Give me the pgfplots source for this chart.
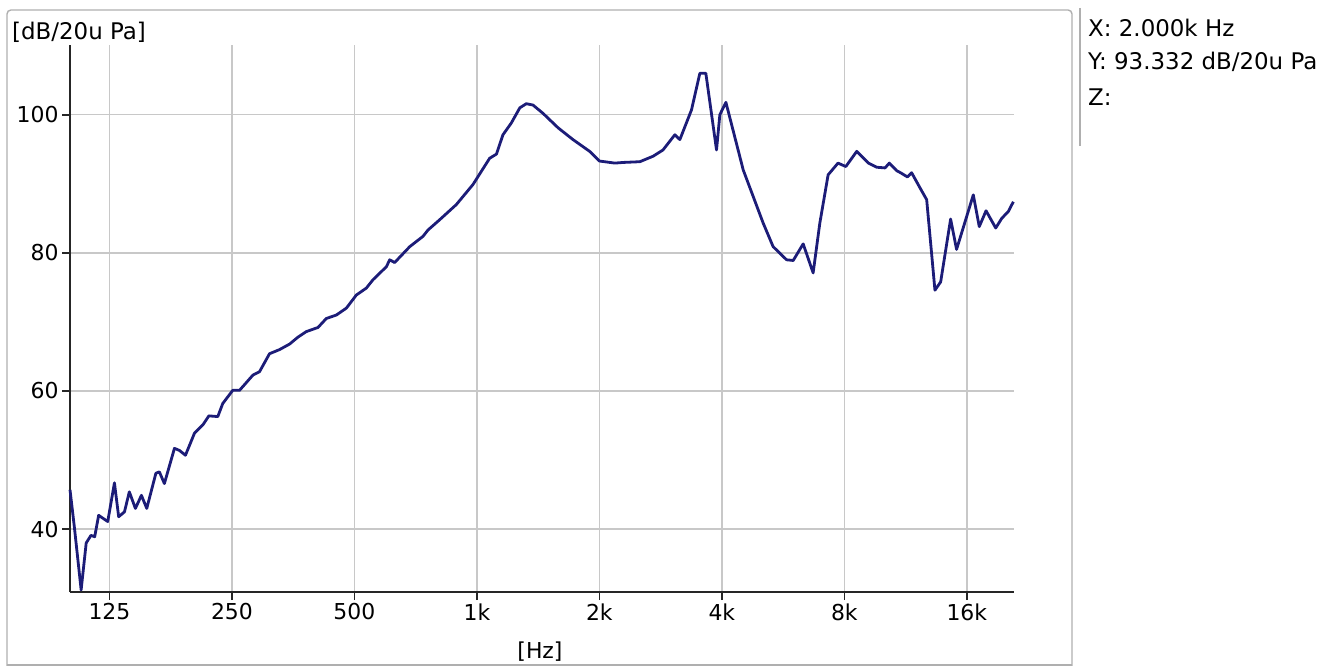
\documentclass[border=0pt]{standalone}
\usepackage{fontspec}
\setmainfont{DejaVu Sans}
\usepackage{pgfplots}
\pgfplotsset{compat=1.18}
\definecolor{curve}{RGB}{28,28,120}
\definecolor{gridc}{RGB}{200,200,200}
\definecolor{framec}{RGB}{175,175,175}
\begin{document}
\begin{tikzpicture}
\path[use as bounding box] (0bp,0bp) rectangle (1341bp,666bp);
% panel frame
\draw[framec, line width=1.4bp, rounded corners=4bp] (7bp,0bp) -- (7bp,656bp) -- (1072bp,656bp) -- (1072bp,0bp);
\draw[framec, line width=1.4bp] (7bp,1bp) -- (1072bp,1bp);
\draw[framec, line width=1.2bp] (1080bp,658bp) -- (1080bp,520bp);
\begin{axis}[
  at={(70bp,74bp)}, anchor=south west,
  scale only axis, width=944bp, height=547bp,
  xmode=log, xmin=100, xmax=20900,
  ymin=30.9, ymax=110.1,
  axis x line*=bottom, axis y line*=left,
  axis line style={-, line width=1.8bp, black!85},
  xtick={125,250,500,1000,2000,4000,8000,16000},
  xticklabels={125,250,500,1k,2k,4k,8k,16k},
  ytick={40,60,80,100},
  yticklabels={40,60,80,100},
  xtick pos=bottom, ytick pos=left,
  tick align=outside, major tick length=8bp,
  major tick style={draw=black!85, line width=1.6bp},
  xmajorgrids, ymajorgrids, xminorgrids=false,
  major grid style={line width=1.4bp, gridc},
  tick label style={font=\fontsize{22}{26}\selectfont},
  /pgf/number format/assume math mode=true,
  clip=false,
]
\addplot[curve, line width=2.8bp, no marks, line join=round] coordinates {
(100,45.7) (102.5,40.3) (106.5,31.2) (109.6,38.0) (112.6,39.1) (115.0,38.9)
(117.6,42.0) (123.8,41.1) (128.6,46.7) (131.7,41.8) (136.1,42.5) (139.9,45.4)
(144.8,43.0) (149.8,44.9) (154.4,43.0) (162.6,48.1) (165.8,48.3) (170.6,46.6)
(180.6,51.7) (185.8,51.4) (192.2,50.7) (202.3,53.9) (212.1,55.1) (219.4,56.4)
(230.8,56.3) (237.4,58.2) (251.2,60.1) (261.0,60.1) (281.5,62.3) (292.3,62.8)
(309.3,65.4) (327.4,66.0) (346.6,66.8) (363.3,67.8) (380.8,68.6) (406.9,69.2)
(426.5,70.5) (451.4,71.0) (477.8,72.0) (505.6,73.9) (534.9,74.9) (555.3,76.1)
(599.3,78.0) (610.6,79.0) (627.9,78.6) (683.9,80.9) (737.5,82.4) (758,83.3)
(810.2,84.8) (890.4,87.0) (978.2,89.9) (1075,93.7) (1117,94.3) (1159,97.1)
(1215,98.8) (1275,101.0) (1323,101.6) (1374,101.4) (1454,100.2) (1584,98.1)
(1723,96.4) (1893,94.7) (2000,93.3) (2183,93.0) (2300,93.1) (2515,93.2)
(2712,94.0) (2867,94.9) (3066,97.1) (3154,96.4) (3369,100.7) (3532,106.0)
(3654,106.0) (3882,94.9) (3956,100.0) (4093,101.8) (4515,92.0) (5055,84.3)
(5347,80.9) (5769,79.0) (5991,78.9) (6338,81.3) (6706,77.1) (6964,84.3)
(7300,91.3) (7719,93.0) (8068,92.5) (8583,94.7) (9167,93.0) (9609,92.4)
(10073,92.3) (10320,93.0) (10760,91.9) (11000,91.6) (11430,91.0) (11710,91.6)
(12280,89.4) (12750,87.7) (13360,74.6) (13800,75.8) (14600,84.9) (15100,80.5)
(16600,88.4) (17170,83.8) (17840,86.1) (18850,83.6) (19500,85.0) (20240,86.0)
(20820,87.4)
};
% tick marks drawn outward from the axis lines
\pgfplotsinvokeforeach{125,250,500,1000,2000,4000,8000,16000}{
  \draw[black!85, line width=1.6bp] (axis cs:#1,30.9) -- ++(0bp,-8bp);
}
\pgfplotsinvokeforeach{40,60,80,100}{
  \draw[black!85, line width=1.6bp] (axis cs:100,#1) -- ++(-8bp,0bp);
}
\end{axis}
\node[anchor=west, inner sep=0pt, font=\fontsize{23}{27}\selectfont] at (12bp,634bp) {[dB/20u Pa]};
\node[anchor=center, inner sep=0pt, font=\fontsize{22}{26}\selectfont] at (540bp,14bp) {[Hz]};
\node[anchor=west, inner sep=0pt, font=\fontsize{23}{27}\selectfont] at (1088bp,638bp) {X: 2.000k Hz};
\node[anchor=west, inner sep=0pt, font=\fontsize{23}{27}\selectfont] at (1088bp,604bp) {Y: 93.332 dB/20u Pa};
\node[anchor=west, inner sep=0pt, font=\fontsize{23}{27}\selectfont] at (1088bp,569bp) {Z:};
\end{tikzpicture}
\end{document}
